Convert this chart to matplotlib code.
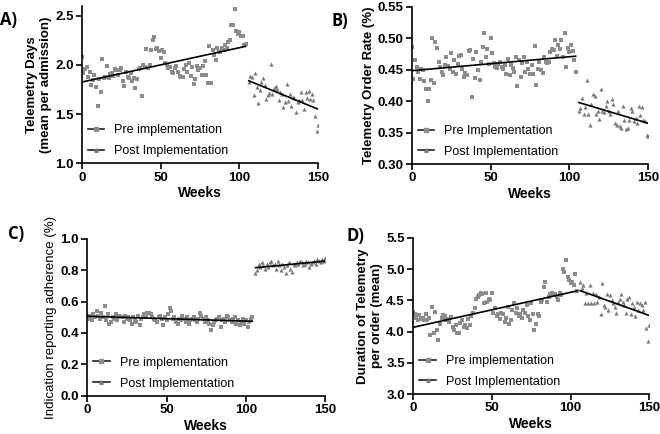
import matplotlib.pyplot as plt
import numpy as np
from matplotlib.lines import Line2D

plt.rcParams['font.family'] = ['Liberation Sans', 'DejaVu Sans']

# weeks of each period
weeks_pre = np.arange(0, 105)
weeks_post = np.arange(106, 151)

# A) telemetry days (mean per admission)
a_pre = [2.08, 1.92, 1.96, 1.98, 1.88, 1.93, 1.80, 1.85, 1.90, 1.78, 1.58,
         1.86, 1.72, 2.06, 1.87, 1.88, 1.99, 1.87, 1.91, 1.92, 1.89,
         1.96, 1.95, 1.90, 1.95, 1.97, 1.84, 1.79, 1.93, 1.88, 1.87,
         1.92, 1.84, 1.87, 1.77, 1.86, 1.96, 1.97, 1.68, 2.00, 1.98,
         2.16, 1.97, 2.00, 2.15, 2.25, 2.28, 2.16, 2.17, 2.14, 2.07,
         2.15, 2.13, 2.02, 2.00, 1.97, 1.98, 1.93, 1.92, 1.97, 1.99,
         1.93, 1.89, 1.88, 1.88, 1.96, 2.00, 1.93, 2.02, 1.89, 1.98,
         1.81, 1.86, 1.99, 1.95, 1.97, 1.90, 1.99, 2.04, 1.90, 1.82,
         2.19, 1.82, 2.15, 2.10, 2.05, 2.17, 2.14, 2.13, 2.17, 2.15,
         2.20, 2.17, 2.23, 2.25, 2.41, 2.41, 2.57, 2.35, 2.32, 2.34,
         2.30, 2.30, 2.20, 2.21]
a_post = [1.83, 1.89, 1.88, 1.69, 1.92, 1.78, 1.61, 1.75, 1.83, 1.87,
          1.80, 1.65, 1.69, 1.71, 2.01, 1.70, 1.77, 1.79, 1.76, 1.64,
          1.73, 1.70, 1.57, 1.62, 1.81, 1.63, 1.70, 1.58, 1.67, 1.66,
          1.52, 1.62, 1.64, 1.73, 1.64, 1.55, 1.72, 1.66, 1.74, 1.65,
          1.70, 1.64, 1.48, 1.33, 1.39]

# B) telemetry order rate
b_pre = [0.486, 0.435, 0.466, 0.455, 0.446, 0.435, 0.452, 0.449, 0.432, 0.420, 0.401,
         0.420, 0.433, 0.501, 0.429, 0.495, 0.484, 0.462, 0.455, 0.447, 0.441,
         0.458, 0.470, 0.456, 0.452, 0.476, 0.447, 0.466, 0.443, 0.460, 0.472,
         0.474, 0.452, 0.438, 0.445, 0.441, 0.480, 0.481, 0.407, 0.467, 0.437,
         0.478, 0.450, 0.433, 0.463, 0.486, 0.509, 0.470, 0.483, 0.459, 0.500,
         0.476, 0.461, 0.455, 0.453, 0.460, 0.463, 0.455, 0.451, 0.458, 0.443,
         0.467, 0.441, 0.458, 0.453, 0.447, 0.470, 0.424, 0.465, 0.438, 0.461,
         0.470, 0.447, 0.463, 0.452, 0.444, 0.458, 0.443, 0.488, 0.426, 0.451,
         0.462, 0.449, 0.445, 0.470, 0.463, 0.461, 0.463, 0.478, 0.483, 0.481,
         0.497, 0.472, 0.490, 0.483, 0.498, 0.470, 0.508, 0.455, 0.485, 0.478,
         0.490, 0.480, 0.465, 0.447]
b_post = [0.385, 0.389, 0.405, 0.380, 0.390, 0.433, 0.380, 0.362, 0.395, 0.412,
          0.408, 0.380, 0.385, 0.372, 0.419, 0.385, 0.383, 0.393, 0.400, 0.385,
          0.380, 0.404, 0.395, 0.365, 0.362, 0.384, 0.360, 0.358, 0.392, 0.370,
          0.356, 0.357, 0.370, 0.389, 0.385, 0.368, 0.374, 0.366, 0.393, 0.378,
          0.390, 0.370, 0.368, 0.346, 0.344]

# C) indication reporting adherence
c_pre = [0.50, 0.51, 0.49, 0.48, 0.52, 0.50, 0.54, 0.51, 0.49, 0.53, 0.50,
         0.57, 0.48, 0.52, 0.46, 0.47, 0.50, 0.49, 0.52, 0.48, 0.51,
         0.50, 0.50, 0.47, 0.51, 0.49, 0.50, 0.48, 0.46, 0.50, 0.48,
         0.47, 0.51, 0.45, 0.49, 0.50, 0.52, 0.51, 0.53, 0.53, 0.52,
         0.50, 0.49, 0.48, 0.47, 0.50, 0.51, 0.49, 0.45, 0.50, 0.48,
         0.52, 0.56, 0.54, 0.49, 0.50, 0.47, 0.46, 0.49, 0.48, 0.51,
         0.49, 0.47, 0.50, 0.46, 0.48, 0.49, 0.50, 0.48, 0.47, 0.49,
         0.53, 0.51, 0.49, 0.47, 0.50, 0.48, 0.46, 0.42, 0.45, 0.47,
         0.48, 0.49, 0.50, 0.44, 0.48, 0.49, 0.47, 0.51, 0.50, 0.48,
         0.47, 0.49, 0.50, 0.46, 0.48, 0.45, 0.47, 0.49, 0.46, 0.48,
         0.44, 0.47, 0.49, 0.50]
c_post = [0.78, 0.80, 0.84, 0.82, 0.85, 0.83, 0.81, 0.84, 0.82, 0.85,
          0.86, 0.83, 0.84, 0.81, 0.86, 0.83, 0.80, 0.84, 0.82, 0.78,
          0.83, 0.85, 0.81, 0.79, 0.84, 0.83, 0.85, 0.84, 0.86, 0.85,
          0.83, 0.84, 0.86, 0.85, 0.82, 0.84, 0.85, 0.86, 0.84, 0.87,
          0.86, 0.85, 0.87, 0.86, 0.88]

# D) duration of telemetry per order
d_pre = [4.32, 4.28, 4.22, 4.18, 4.26, 4.20, 4.22, 4.18, 4.28, 4.18, 4.22,
         3.94, 4.40, 3.98, 4.32, 4.03, 3.87, 4.12, 4.22, 4.26, 4.25,
         4.18, 4.20, 4.16, 4.23, 4.08, 4.03, 4.10, 3.98, 3.97, 4.13,
         4.18, 4.07, 4.10, 4.05, 4.20, 4.10, 4.25, 4.30, 4.38, 4.52,
         4.55, 4.58, 4.62, 4.60, 4.45, 4.62, 4.48, 4.52, 4.50, 4.62,
         4.30, 4.38, 4.25, 4.28, 4.20, 4.30, 4.28, 4.15, 4.22, 4.40,
         4.12, 4.18, 4.35, 4.45, 4.30, 4.38, 4.25, 4.28, 4.22, 4.35,
         4.30, 4.42, 4.25, 4.18, 4.45, 4.28, 4.03, 4.12, 4.28, 4.25,
         4.48, 4.50, 4.72, 4.80, 4.48, 4.55, 4.60, 4.62, 4.58, 4.60,
         4.55, 4.50, 4.62, 4.58, 5.00, 4.95, 5.15, 4.88, 4.82, 4.78,
         4.80, 4.75, 4.92, 4.65]
d_post = [4.80, 4.70, 4.75, 4.45, 4.62, 4.45, 4.75, 4.45, 4.62, 4.45,
          4.60, 4.48, 4.55, 4.28, 4.78, 4.42, 4.40, 4.60, 4.35, 4.58,
          4.50, 4.45, 4.40, 4.30, 4.48, 4.52, 4.60, 4.48, 4.42, 4.30,
          4.52, 4.55, 4.28, 4.45, 4.40, 4.25, 4.48, 4.35, 4.45, 4.42,
          4.35, 4.48, 4.05, 3.85, 4.10]

panels = [
    ('A)', a_pre, a_post, [0.124, 0.624, 0.358, 0.362], (1.0, 2.6), [1.0, 1.5, 2.0, 2.5],
     'Telemetry Days\n(mean per admission)', 'bold', ['Pre implementation', 'Post Implementation'], (0.0, 0.975)),
    ('B)', b_pre, b_post, [0.624, 0.622, 0.358, 0.362], (0.30, 0.55), [0.30, 0.35, 0.40, 0.45, 0.50, 0.55],
     'Telemetry Order Rate (%)', 'bold', ['Pre Implementation', 'Post Implementation'], (0.503, 0.972)),
    ('C)', c_pre, c_post, [0.132, 0.088, 0.361, 0.362], (0.0, 1.0), [0.0, 0.2, 0.4, 0.6, 0.8, 1.0],
     'Indication reporting adherence (%)', 'normal', ['Pre implementation', 'Post Implementation'], (0.012, 0.482)),
    ('D)', d_pre, d_post, [0.626, 0.092, 0.358, 0.360], (3.0, 5.5), [3.0, 3.5, 4.0, 4.5, 5.0, 5.5],
     'Duration of Telemetry\nper order (mean)', 'bold', ['Pre implementation', 'Post Implementation'], (0.525, 0.476)),
]

fig = plt.figure(figsize=(6.6, 4.34), dpi=100)

for letter, pre, post, rect, ylim, yticks, ylabel, yweight, leg_labels, letter_pos in panels:
    ax = fig.add_axes(rect)
    ax.scatter(weeks_pre, pre, marker='s', s=9, color='#8c8c8c', linewidths=0, zorder=2)
    ax.scatter(weeks_post, post, marker='^', s=9, color='#7a7a7a', linewidths=0, zorder=2)

    # linear trend for each period
    for w, v in [(weeks_pre, pre), (weeks_post, post)]:
        k, b = np.polyfit(w, v, 1)
        xs = np.array([w[0], w[-1]])
        ax.plot(xs, k * xs + b, color='black', lw=1.2, zorder=3)

    ax.set_xlim(0, 150)
    ax.set_ylim(*ylim)
    ax.set_xticks([0, 50, 100, 150])
    ax.set_yticks(yticks)
    ax.spines['top'].set_visible(False)
    ax.spines['right'].set_visible(False)
    ax.spines['left'].set_linewidth(1.2)
    ax.spines['bottom'].set_linewidth(1.2)
    ax.tick_params(direction='out', length=4, width=1.2, labelsize=9.5, pad=2)
    for lab in ax.get_xticklabels() + ax.get_yticklabels():
        lab.set_fontweight('bold')
    ax.set_xlabel('Weeks', fontsize=10, fontweight='bold', labelpad=2)
    ax.set_ylabel(ylabel, fontsize=9.5, fontweight=yweight, labelpad=2, linespacing=1.3)

    handles = [
        Line2D([], [], color='#222222', lw=1.2, marker='s', markersize=2.5,
               markerfacecolor='#8c8c8c', markeredgecolor='#8c8c8c'),
        Line2D([], [], color='#222222', lw=1.2, marker='^', markersize=2.5,
               markerfacecolor='#7a7a7a', markeredgecolor='#7a7a7a'),
    ]
    ax.legend(handles, leg_labels, loc='lower left', frameon=False, fontsize=9,
              handlelength=1.3, handletextpad=0.8, labelspacing=0.7,
              borderaxespad=0.1, numpoints=1)

    fig.text(letter_pos[0], letter_pos[1], letter, fontsize=12, fontweight='bold',
             family=['Open Sans', 'DejaVu Sans'], va='top', ha='left')

fig.savefig('out.png', dpi=100)
